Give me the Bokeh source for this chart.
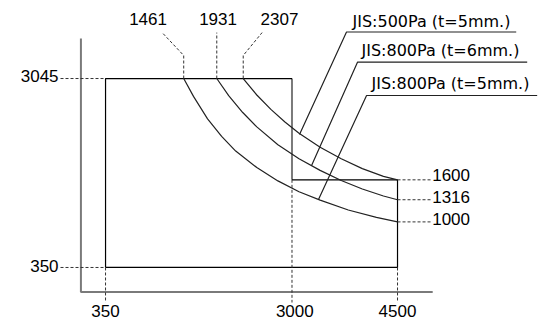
from bokeh.plotting import figure
from bokeh.models import Range1d
from bokeh.core.properties import value
from bokeh.embed import file_html
from bokeh.resources import INLINE

# ---- data ----
x_ticks = [350, 3000, 4500]
y_ticks = [350, 3045]
right_ticks = [1600, 1316, 1000]
top_ticks = [1461, 1931, 2307]

# outline of the region
outline_x = [350, 350, 3000]
outline_y = [350, 3045, 3045]
step_x = [3000, 4500, 4500, 350]
step_y = [1600, 1600, 350, 350]

# curves
c1_x = [1461, 1600, 1800, 2000, 2200, 2500, 2800, 3100, 3400, 3800, 4200, 4500]
c1_y = [3045, 2790, 2470, 2220, 2010, 1775, 1585, 1430, 1310, 1170, 1065, 1000]
c2_x = [1931, 2100, 2300, 2500, 2800, 3100, 3400, 3700, 4000, 4300, 4500]
c2_y = [3045, 2800, 2560, 2355, 2100, 1900, 1735, 1590, 1470, 1370, 1316]
c3_x = [2307, 2500, 2700, 2900, 3100, 3400, 3700, 4000, 4300, 4500]
c3_y = [3045, 2810, 2605, 2425, 2265, 2065, 1900, 1760, 1650, 1600]

labels = ["JIS:500Pa (t=5mm.)", "JIS:800Pa (t=6mm.)", "JIS:800Pa (t=5mm.)"]
label_anchor_x = [3107, 3277, 3377]
label_anchor_y = [2247, 1800, 1320]
label_line_x = [3775, 3931, 4060]
label_line_y = [3709, 3278, 2803]
label_end_x = [6187, 6343, 6485]
label_text_x = [3860, 3988, 4130]
label_text_y = [3863, 3442, 2967]

NUM_FONT = value("Liberation Sans")
NUM_FS = "17px"
LAB_FONT = value("DejaVu Sans")
LAB_FS = "16px"

p = figure(width=539, height=326, output_backend="svg", toolbar_location=None,
           x_range=Range1d(-1143, 6518), y_range=Range1d(-492, 4158),
           x_axis_location=None, y_axis_location=None, min_border=0)
p.xgrid.visible = False
p.ygrid.visible = False
p.outline_line_color = None

AX = "#7a7a7a"
DASH = "#333333"
dash = "3 2"

# axes (L shape)
p.line([0, 0, 5000], [3616, 0, 0], line_color=AX, line_width=2)
# vertical step at x=3000 (grey)
p.line([3000, 3000], [3045, 1600], line_color=AX, line_width=2)

# outline
p.line(outline_x, outline_y, line_color="black", line_width=1.2)
p.line(step_x, step_y, line_color="black", line_width=1.2)

# curves
for cx, cy in [(c1_x, c1_y), (c2_x, c2_y), (c3_x, c3_y)]:
    p.line(cx, cy, line_color="#222222", line_width=1.2)

# dashed guides
for yv in y_ticks:
    p.line([-290, 350], [yv, yv], line_color=DASH, line_dash=dash, line_width=1)
for yv in right_ticks:
    p.line([4500, 4969], [yv, yv], line_color=DASH, line_dash=dash, line_width=1)
p.line([350, 350], [350, -150], line_color=DASH, line_dash=dash, line_width=1)
p.line([3000, 3000], [1600, -150], line_color=DASH, line_dash=dash, line_width=1)
p.line([4500, 4500], [350, -150], line_color=DASH, line_dash=dash, line_width=1)

# top leaders
p.line([top_ticks[0], top_ticks[0], 1155], [3045, 3374, 3700], line_color=DASH, line_dash=dash, line_width=1)
p.line([top_ticks[1], top_ticks[1]], [3045, 3700], line_color=DASH, line_dash=dash, line_width=1)
p.line([top_ticks[2], top_ticks[2], 2575], [3045, 3374, 3700], line_color=DASH, line_dash=dash, line_width=1)

# label leaders with underline
for ax_, ay_, lx, ly, ex in zip(label_anchor_x, label_anchor_y, label_line_x, label_line_y, label_end_x):
    p.line([ax_, lx, ex], [ay_, ly, ly], line_color="#222222", line_width=1.2)

# texts
common = dict(text_baseline="middle", text_font=NUM_FONT, text_font_size=NUM_FS, text_color="black")
p.text(x=[-318] * 2, y=[378, 3081], text=[str(v) for v in y_ticks], text_align="right", **common)
p.text(x=[4993] * 3, y=[1676, 1358, 1048], text=[str(v) for v in right_ticks], text_align="left", **common)
p.text(x=[350, 3040, 4500], y=[-264] * 3, text=[str(v) for v in x_ticks], text_align="center", **common)
p.text(x=[954, 1949, 2823], y=[3897] * 3, text=[str(v) for v in top_ticks], text_align="center", **common)
p.text(x=label_text_x, y=label_text_y, text=labels, text_align="left", text_baseline="middle",
       text_font=LAB_FONT, text_font_size=LAB_FS, text_color="black")

open("out.html", "w").write(file_html(p, INLINE))
